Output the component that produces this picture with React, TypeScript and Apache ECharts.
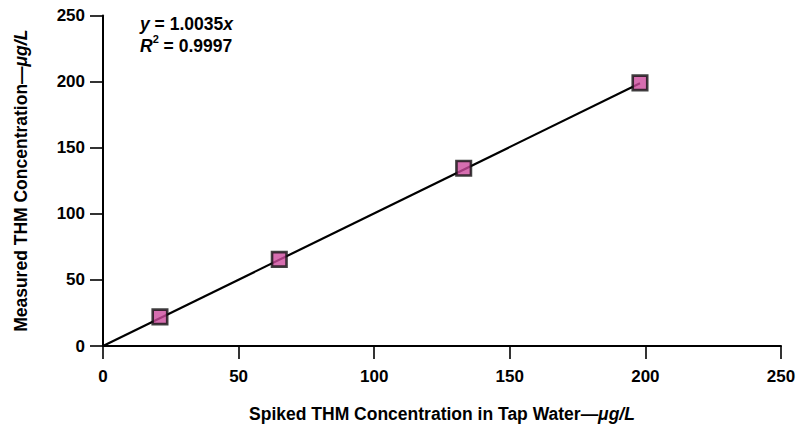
import React, { useEffect, useRef } from "react";
import * as echarts from "echarts";

const spikedX = [21, 65, 133, 198];
const measuredY = [22, 65.5, 134.5, 199];
const fitX = [0, 198];
const fitY = [0, 198.7];
const axisTicks = [0, 50, 100, 150, 200, 250];
const eqSlope = "1.0035";
const r2Value = "0.9997";

const FONT = "'Liberation Sans', Arial, Helvetica, sans-serif";

export default function App() {
  const ref = useRef<HTMLDivElement>(null);
  useEffect(() => {
    if (!ref.current) return;
    const chart = echarts.init(ref.current, undefined, { renderer: "svg" });
    const nameRich = {
      b: { fontFamily: FONT, fontWeight: "bold", fontSize: 17.5, color: "#000" },
      i: { fontFamily: FONT, fontWeight: "bold", fontStyle: "italic", fontSize: 17.5, color: "#000" },
    };
    const axisCommon = {
      type: "value" as const,
      min: axisTicks[0],
      max: axisTicks[axisTicks.length - 1],
      interval: 50,
      splitLine: { show: false },
      axisLine: { show: true, onZero: false, lineStyle: { color: "#000", width: 2 } },
      axisTick: { show: true, inside: false, length: 13, lineStyle: { color: "#000", width: 1.6 } },
      axisLabel: { color: "#000", fontFamily: FONT, fontWeight: "bold" as const, fontSize: 17 },
    };
    chart.setOption({
      animation: false,
      backgroundColor: "#fff",
      grid: { left: 103, right: 27, top: 15.5, bottom: 80, containLabel: false },
      xAxis: {
        ...axisCommon,
        axisLabel: { ...axisCommon.axisLabel, margin: 22 },
        name: "{b|Spiked THM Concentration in Tap Water—}{i|μg/L}",
        nameLocation: "middle",
        nameGap: 59,
        nameTextStyle: { rich: nameRich },
      },
      yAxis: {
        ...axisCommon,
        axisLabel: { ...axisCommon.axisLabel, margin: 18 },
        name: "{b|Measured THM Concentration—}{i|μg/L}",
        nameLocation: "middle",
        nameGap: 73,
        nameRotate: 90,
        nameTextStyle: { rich: nameRich },
      },
      series: [
        {
          type: "line",
          data: fitX.map((x, i) => [x, fitY[i]]),
          showSymbol: false,
          symbol: "none",
          lineStyle: { color: "#000", width: 2.2 },
          z: 2,
        },
        {
          type: "scatter",
          data: spikedX.map((x, i) => [x, measuredY[i]]),
          symbol: "rect",
          symbolSize: 14.5,
          itemStyle: { color: "#cc4a9c", borderColor: "#111", borderWidth: 2.6 },
          z: 3,
        },
      ],
      graphic: [
        {
          type: "text",
          left: 140,
          top: 15,
          style: {
            text: "{i|y}{n| = " + eqSlope + "}{i|x}",
            rich: {
              i: { fontFamily: FONT, fontWeight: "bold", fontStyle: "italic", fontSize: 17.5, fill: "#000" },
              n: { fontFamily: FONT, fontWeight: "bold", fontSize: 17.5, fill: "#000" },
            },
          },
        },
        {
          type: "text",
          left: 140,
          top: 33,
          style: {
            text: "{i|R}{s|2}{n| = " + r2Value + "}",
            rich: {
              i: { fontFamily: FONT, fontWeight: "bold", fontStyle: "italic", fontSize: 17.5, fill: "#000", lineHeight: 22, verticalAlign: "bottom" },
              s: { fontFamily: FONT, fontWeight: "bold", fontSize: 11, fill: "#000", verticalAlign: "top", lineHeight: 22 },
              n: { fontFamily: FONT, fontWeight: "bold", fontSize: 17.5, fill: "#000", lineHeight: 22, verticalAlign: "bottom" },
            },
          },
        },
      ],
    });
    return () => chart.dispose();
  }, []);
  return (
    <div
      ref={ref}
      style={{ position: "fixed", left: 0, top: 0, width: 808, height: 428, background: "#fff" }}
    />
  );
}
